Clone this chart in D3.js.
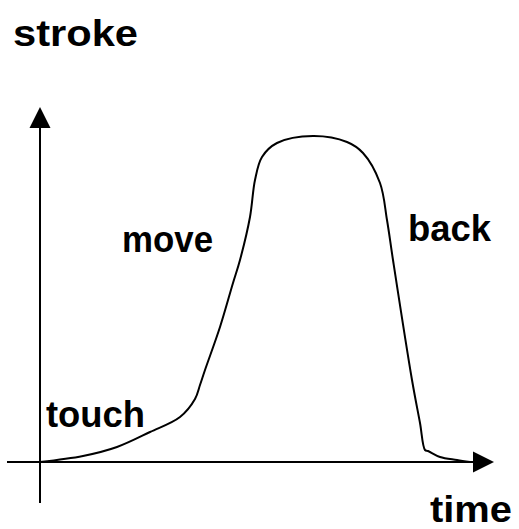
<!DOCTYPE html>
<html>
<head>
<meta charset="utf-8">
<script src="https://cdn.jsdelivr.net/npm/d3@7"></script>
<style>
  html, body { margin: 0; padding: 0; background: #fff; }
  svg text { font-family: "Liberation Sans", Arial, Helvetica, sans-serif; font-weight: bold; fill: #000; }
</style>
</head>
<body>
<svg id="chart" width="519" height="529"></svg>
<script>
// Sampled stroke profile over time (arbitrary units)
const time   = [0, 43, 77, 110, 140, 155, 160, 165, 180, 193, 200, 210, 215, 222, 237, 273, 307, 323, 340, 347, 353, 372, 380, 385, 388, 400, 417, 430];
const stroke = [0, 6, 15, 30, 45, 63, 77, 92, 135, 179, 202, 245, 282, 305, 319, 326, 320, 309, 279, 242, 202, 82, 39, 12, 11, 5, 2, 0];

// Axis extents in data units
const xAxisRange = [-33, 454];
const yAxisRange = [-41, 355];

// Phase labels: text, anchor time, anchor stroke
const phaseLabels = ["touch", "move", "back"];
const phaseTime   = [6, 82, 368];
const phaseStroke = [35, 210, 221];

// Axis titles
const axisTitles = ["stroke", "time"];

const svg = d3.select("#chart");
const x = d3.scaleLinear().domain([0, 454]).range([40, 494]);
const y = d3.scaleLinear().domain([0, 355]).range([462, 107]);

const arrowLen = 21, arrowHalf = 10.5;

// x axis line and arrowhead
svg.append("line")
  .attr("x1", x(xAxisRange[0])).attr("x2", x(xAxisRange[1]) - arrowLen + 1)
  .attr("y1", y(0)).attr("y2", y(0))
  .attr("stroke", "#000").attr("stroke-width", 2);
svg.append("path")
  .attr("d", `M${x(xAxisRange[1])},${y(0)} L${x(xAxisRange[1]) - arrowLen},${y(0) - arrowHalf} L${x(xAxisRange[1]) - arrowLen},${y(0) + arrowHalf} Z`)
  .attr("fill", "#000");

// y axis line and arrowhead
svg.append("line")
  .attr("x1", x(0)).attr("x2", x(0))
  .attr("y1", y(yAxisRange[0])).attr("y2", y(yAxisRange[1]) + arrowLen - 1)
  .attr("stroke", "#000").attr("stroke-width", 2);
svg.append("path")
  .attr("d", `M${x(0)},${y(yAxisRange[1])} L${x(0) - arrowHalf},${y(yAxisRange[1]) + arrowLen} L${x(0) + arrowHalf},${y(yAxisRange[1]) + arrowLen} Z`)
  .attr("fill", "#000");

// stroke curve
const pts = time.map((t, i) => [t, stroke[i]]);
const line = d3.line()
  .x(d => x(d[0]))
  .y(d => y(d[1]))
  .curve(d3.curveCatmullRom.alpha(0.5));
svg.append("path")
  .attr("d", line(pts))
  .attr("fill", "none")
  .attr("stroke", "#000")
  .attr("stroke-width", 2)
  .attr("stroke-linejoin", "round");

// phase labels (widths fitted so the bold type sets the same measure)
const phaseWidths = [99, 91, 83];
svg.selectAll("text.phase")
  .data(phaseLabels)
  .join("text")
  .attr("class", "phase")
  .attr("x", (d, i) => x(phaseTime[i]))
  .attr("y", (d, i) => y(phaseStroke[i]))
  .attr("font-size", 37)
  .attr("textLength", (d, i) => phaseWidths[i])
  .attr("lengthAdjust", "spacingAndGlyphs")
  .text(d => d);

// axis titles
svg.append("text")
  .attr("x", x(-27)).attr("y", y(416))
  .attr("font-size", 37)
  .attr("textLength", 125)
  .attr("lengthAdjust", "spacingAndGlyphs")
  .text(axisTitles[0]);
svg.append("text")
  .attr("x", x(390)).attr("y", y(-60))
  .attr("font-size", 37)
  .attr("textLength", 82)
  .attr("lengthAdjust", "spacingAndGlyphs")
  .text(axisTitles[1]);
</script>
</body>
</html>
